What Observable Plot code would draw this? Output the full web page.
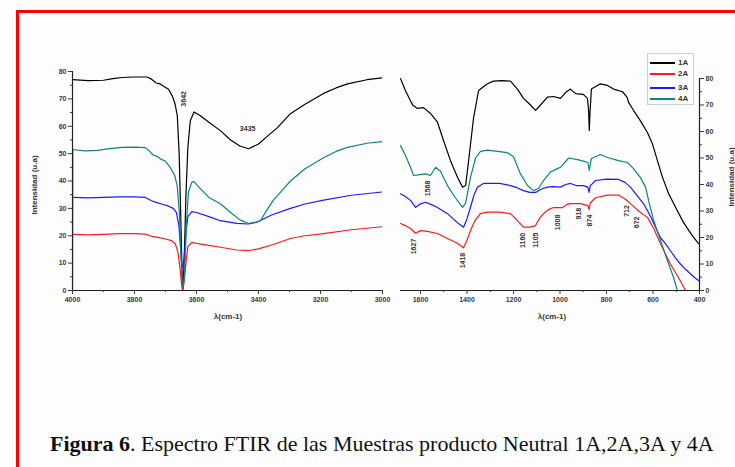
<!DOCTYPE html>
<html>
<head>
<meta charset="utf-8">
<script src="https://cdn.jsdelivr.net/npm/d3@7"></script>
<script src="https://cdn.jsdelivr.net/npm/@observablehq/plot@0.6"></script>
<style>
  html, body { margin: 0; padding: 0; background: #fff; overflow: hidden; }
  #page { position: relative; width: 735px; height: 467px; overflow: hidden; background: #fdfdfd;
          font-family: "Liberation Sans", Arial, sans-serif; }
  #frame { position: absolute; left: 16px; top: 10px; width: 820px; height: 620px;
           border: 3px solid #ff0000; box-sizing: border-box; }
  .panel { position: absolute; top: 0; }
  .xtitle { position: absolute; top: 312px; font-size: 8px; font-weight: bold; color: #333;
            transform: translateX(-50%); white-space: nowrap; }
  .ytitle { position: absolute; font-size: 8px; font-weight: bold; color: #333; white-space: nowrap;
            transform: translate(-50%, -50%) rotate(-90deg); }
  #legend { position: absolute; left: 647px; top: 53px; width: 47px; height: 52px;
            border: 1px solid #cfcfcf; box-sizing: border-box; background: #fff; }
  .lg { position: absolute; left: 2px; height: 10px; width: 44px; }
  .lg i { position: absolute; left: 0; top: 4px; width: 25px; height: 2px; }
  .lg span { position: absolute; left: 28px; top: 0; font-size: 8px; font-weight: bold; color: #333; line-height: 10px; }
  #caption { position: absolute; left: 50px; top: 431px; font-family: "Liberation Serif", "Times New Roman", serif;
             font-size: 22px; color: #111; white-space: nowrap; }
</style>
</head>
<body>
<div id="page">
  <div id="frame"></div>
  <div id="leftPanel" class="panel" style="left:0"></div>
  <div id="rightPanel" class="panel" style="left:380px"></div>
  <div class="xtitle" style="left:228px">λ(cm-1)</div>
  <div class="xtitle" style="left:552px">λ(cm-1)</div>
  <div class="ytitle" style="left:34px; top:185px">Intensidad (u.a)</div>
  <div class="ytitle" style="left:731px; top:177px">Intensidad (u.a)</div>
  <div id="legend"></div>
  <div id="caption"><b>Figura 6</b>. Espectro FTIR de las Muestras producto Neutral 1A,2A,3A y 4A</div>
</div>
<script>
// Samples and their line colours
const seriesNames = ["1A", "2A", "3A", "4A"];
const seriesColors = ["#000000", "#ff1a1a", "#1a1aff", "#0a8580"];

// High wavenumber region (4000-3000 cm-1): [wavenumber, intensity]
const hi1A = [[4000,77],[3950,76.7],[3900,76.8],[3870,77.4],[3840,77.8],[3800,78],[3760,78],[3745,77.2],[3730,75.8],
  [3720,75.6],[3705,74.5],[3690,73.5],[3678,71],[3670,68.5],[3662,64],[3656,50],[3651,28],[3647,8],[3644,0],
  [3640,10],[3634,35],[3628,52],[3620,62],[3608,65.2],[3590,64],[3560,61.5],[3523,58.4],[3490,55],[3460,52.8],
  [3432,51.8],[3400,53.5],[3370,56.5],[3339,59.5],[3297,64.6],[3250,68],[3190,72],[3150,74],[3113,75.5],
  [3050,77],[3000,77.7]];
const hi2A = [[4000,20.5],[3950,20.3],[3900,20.5],[3850,20.8],[3800,20.8],[3765,20.6],[3745,19.8],[3720,19.3],
  [3700,18.8],[3680,18.2],[3668,17],[3660,14],[3653,8],[3648,2],[3645,0],[3640,3],[3634,10],[3628,16],
  [3615,17.6],[3590,17],[3560,16.5],[3523,15.8],[3470,14.8],[3432,14.6],[3400,15.2],[3352,16.8],[3297,19],
  [3250,20],[3190,20.8],[3100,22.2],[3000,23.3]];
const hi3A = [[4000,34],[3950,33.8],[3900,34],[3850,34.2],[3800,34.2],[3765,34],[3745,32.8],[3730,32.2],
  [3710,31.5],[3690,30.8],[3675,30],[3665,28.5],[3657,24],[3651,15],[3647,9],[3644,8.5],[3640,12],[3635,20],
  [3628,27],[3615,28.8],[3600,28.5],[3560,27],[3523,25.5],[3470,24.5],[3432,24.3],[3400,25.2],[3360,27.5],
  [3297,30],[3250,31.6],[3190,33],[3100,34.8],[3000,36]];
const hi4A = [[4000,0],[3999,51.5],[3960,51],[3920,51.2],[3880,51.8],[3840,52.3],[3800,52.4],[3765,52.2],
  [3752,51],[3740,49.5],[3728,49],[3715,48],[3700,47.2],[3685,45],[3670,42],[3662,38],[3655,28],[3650,12],
  [3646,3],[3643,1],[3638,8],[3632,25],[3626,36],[3615,39.6],[3608,39.8],[3590,37.5],[3560,34],[3523,31.7],
  [3490,28.5],[3460,25.8],[3432,24.5],[3410,24.8],[3394,25.5],[3375,29],[3352,33],[3320,37],[3297,40],
  [3250,44.5],[3190,48.5],[3150,50.8],[3113,52.3],[3050,53.8],[3000,54.4]];

// Fingerprint region (1700-400 cm-1): [wavenumber, intensity]
const lo1A = [[1686,80],[1665,75.5],[1634,70],[1613,68.7],[1587,69],[1557,66.8],[1527,63.5],[1501,56.6],
  [1471,49],[1441,42.7],[1419,39],[1406,39.6],[1393,49],[1372,65],[1350,75.5],[1312,78],[1286,79],[1250,79.2],
  [1213,79],[1183,76],[1157,72.5],[1127,70],[1105,68],[1084,70],[1054,73],[1028,73.2],[998,72.5],[976,74.7],
  [955,76],[933,74.3],[900,74],[882,72.5],[877,68],[874,60.4],[871,67],[865,76],[826,78],[796,77.4],[770,76],
  [731,75],[712,73],[705,71],[684,68],[654,64],[624,59.6],[603,55.5],[581,49],[559,42.7],[533,36.6],
  [503,31.4],[469,25.7],[432,20.8],[404,17.7],[400,17.4]];
const lo2A = [[1686,25.3],[1665,24.5],[1643,23.4],[1621,21.6],[1600,22.6],[1570,22.3],[1527,21.5],[1484,19.6],
  [1441,17.8],[1415,16.1],[1400,19],[1385,22.6],[1365,26.5],[1342,29],[1312,29.6],[1260,29.6],[1213,29],
  [1183,26.4],[1157,23.9],[1127,23.9],[1105,24.5],[1090,27],[1071,29],[1050,30.5],[1028,31.3],[989,31.3],
  [970,32.5],[955,32.8],[912,32.8],[880,32],[875,30.5],[870,33],[847,35],[796,36],[748,36],[720,34.5],
  [697,32.8],[662,30],[623,27.5],[597,23.4],[568,17.7],[545,13.5],[525,10],[505,7],[491,5],[460,0],[440,-5]];
const lo3A = [[1686,36.5],[1665,35.5],[1643,34],[1621,31.4],[1600,32.7],[1578,33.3],[1555,32.5],[1527,31.3],
  [1484,29],[1441,25.6],[1415,23.9],[1400,27],[1385,31.4],[1370,36],[1355,39],[1329,40.4],[1260,40.4],
  [1213,39.6],[1185,38.8],[1157,37.7],[1130,37],[1105,37],[1080,38.3],[1054,39],[1030,39.2],[998,39],
  [975,40],[955,40.4],[930,39.6],[900,39.6],[880,39],[875,37],[870,39.5],[847,41.5],[800,42],[748,41.9],
  [720,40.8],[697,39],[670,36],[641,32.8],[620,29.5],[602,26.4],[585,23],[568,20],[545,17.5],[525,15],
  [505,12.5],[482,10],[460,8],[439,6.3],[420,4.8],[404,3.8],[400,3.5]];
const lo4A = [[1686,54.7],[1665,51],[1643,46.5],[1630,43.4],[1610,43.6],[1578,44],[1557,43.4],[1535,46.5],
  [1514,45],[1484,39.6],[1450,35],[1419,31.4],[1406,33],[1385,42.7],[1363,50],[1342,52.5],[1312,53],
  [1226,52],[1200,50.5],[1170,44],[1140,39.6],[1114,37.7],[1092,38.5],[1071,41.5],[1041,44.7],[1011,46],
  [998,46.5],[963,50],[925,49.4],[899,48.8],[880,48.3],[874,45.3],[868,48.5],[865,49.8],[826,51.3],
  [796,50.2],[748,49],[710,48.3],[684,46],[654,42.6],[632,39],[619,34],[597,26.4],[568,19],[538,11.3],
  [512,5],[495,0],[470,-8]];

// Axis ticks
const ticksHi = [4000, 3800, 3600, 3400, 3200, 3000];
const minorHi = [3900, 3700, 3500, 3300, 3100];
const ticksLo = [1600, 1400, 1200, 1000, 800, 600, 400];
const minorLo = [1500, 1300, 1100, 900, 700, 500];
const ticksY = [0, 10, 20, 30, 40, 50, 60, 70, 80];
const minorY = [5, 15, 25, 35, 45, 55, 65, 75];

// Band labels: [text, wavenumber, intensity]
const bandsHiVertical = [["3642", 3642, 70]];
const bandsHiFlat = [["3435", 3435, 59]];
const bandsLo = [["1627", 1627, 16.6], ["1568", 1568, 38.5], ["1418", 1418, 11.3], ["1160", 1160, 18.9],
  ["1105", 1105, 19], ["1008", 1008, 25.7], ["918", 918, 29], ["874", 874, 26.4], ["712", 712, 30], ["672", 672, 25.7]];

const toRows = (pairs, s) => pairs.map(([wn, v]) => ({wn, v, s}));
const hiData = [...toRows(hi1A, "1A"), ...toRows(hi2A, "2A"), ...toRows(hi3A, "3A"), ...toRows(hi4A, "4A")];
const loData = [...toRows(lo1A, "1A"), ...toRows(lo2A, "2A"), ...toRows(lo3A, "3A"), ...toRows(lo4A, "4A")];
const toLabels = (arr) => arr.map(([label, wn, v]) => ({label, wn, v}));

const axisStyle = {
  background: "transparent",
  fontFamily: "Liberation Sans, Arial, sans-serif",
  fontSize: "7px",
  fontWeight: "bold",
  color: "#3a3a3a",
  overflow: "visible"
};
const color = {domain: seriesNames, range: seriesColors};

const left = Plot.plot({
  width: 400, height: 330,
  marginLeft: 72, marginRight: 18, marginTop: 71, marginBottom: 40,
  style: axisStyle,
  x: {domain: [4000, 3000]},
  y: {domain: [0, 80]},
  color,
  marks: [
    Plot.line(hiData, {x: "wn", y: "v", z: "s", stroke: "s", strokeWidth: 1.2, clip: true}),
    Plot.ruleX([4000], {stroke: "#222", strokeWidth: 1.2}),
    Plot.ruleY([0], {stroke: "#222", strokeWidth: 1.2}),
    Plot.axisX({ticks: ticksHi, tickSize: 4, tickPadding: 3, tickFormat: d => String(d), label: null}),
    Plot.axisX({ticks: minorHi, tickSize: 2, tickFormat: () => "", label: null}),
    Plot.axisY({ticks: ticksY, tickSize: 4, tickPadding: 2, tickFormat: d => String(d), label: null}),
    Plot.axisY({ticks: minorY, tickSize: 2, tickFormat: () => "", label: null}),
    Plot.text(toLabels(bandsHiVertical), {x: "wn", y: "v", text: "label", rotate: -90, fontSize: 7, fill: "#333"}),
    Plot.text(toLabels(bandsHiFlat), {x: "wn", y: "v", text: "label", fontSize: 7, fill: "#333"})
  ]
});
document.getElementById("leftPanel").appendChild(left);

const right = Plot.plot({
  width: 355, height: 330,
  marginLeft: 20, marginRight: 36, marginTop: 78, marginBottom: 40,
  style: axisStyle,
  x: {domain: [1686, 400]},
  y: {domain: [0, 80]},
  color,
  marks: [
    Plot.line(loData, {x: "wn", y: "v", z: "s", stroke: "s", strokeWidth: 1.2, clip: true}),
    Plot.ruleX([400], {stroke: "#222", strokeWidth: 1.2}),
    Plot.ruleY([0], {stroke: "#222", strokeWidth: 1.2}),
    Plot.axisX({ticks: ticksLo, tickSize: 4, tickPadding: 3, tickFormat: d => String(d), label: null}),
    Plot.axisX({ticks: minorLo, tickSize: 2, tickFormat: () => "", label: null}),
    Plot.axisY({anchor: "right", ticks: ticksY, tickSize: 4, tickPadding: 2, tickFormat: d => String(d), label: null}),
    Plot.axisY({anchor: "right", ticks: minorY, tickSize: 2, tickFormat: () => "", label: null}),
    Plot.text(toLabels(bandsLo), {x: "wn", y: "v", text: "label", rotate: -90, fontSize: 7, fill: "#333"})
  ]
});
document.getElementById("rightPanel").appendChild(right);

// Legend entries
const legend = document.getElementById("legend");
const legendTops = [4, 15, 28.5, 40];
seriesNames.forEach((name, i) => {
  const row = document.createElement("div");
  row.className = "lg";
  row.style.top = legendTops[i] + "px";
  row.innerHTML = `<i style="background:${seriesColors[i]}"></i><span>${name}</span>`;
  legend.appendChild(row);
});
</script>
</body>
</html>
